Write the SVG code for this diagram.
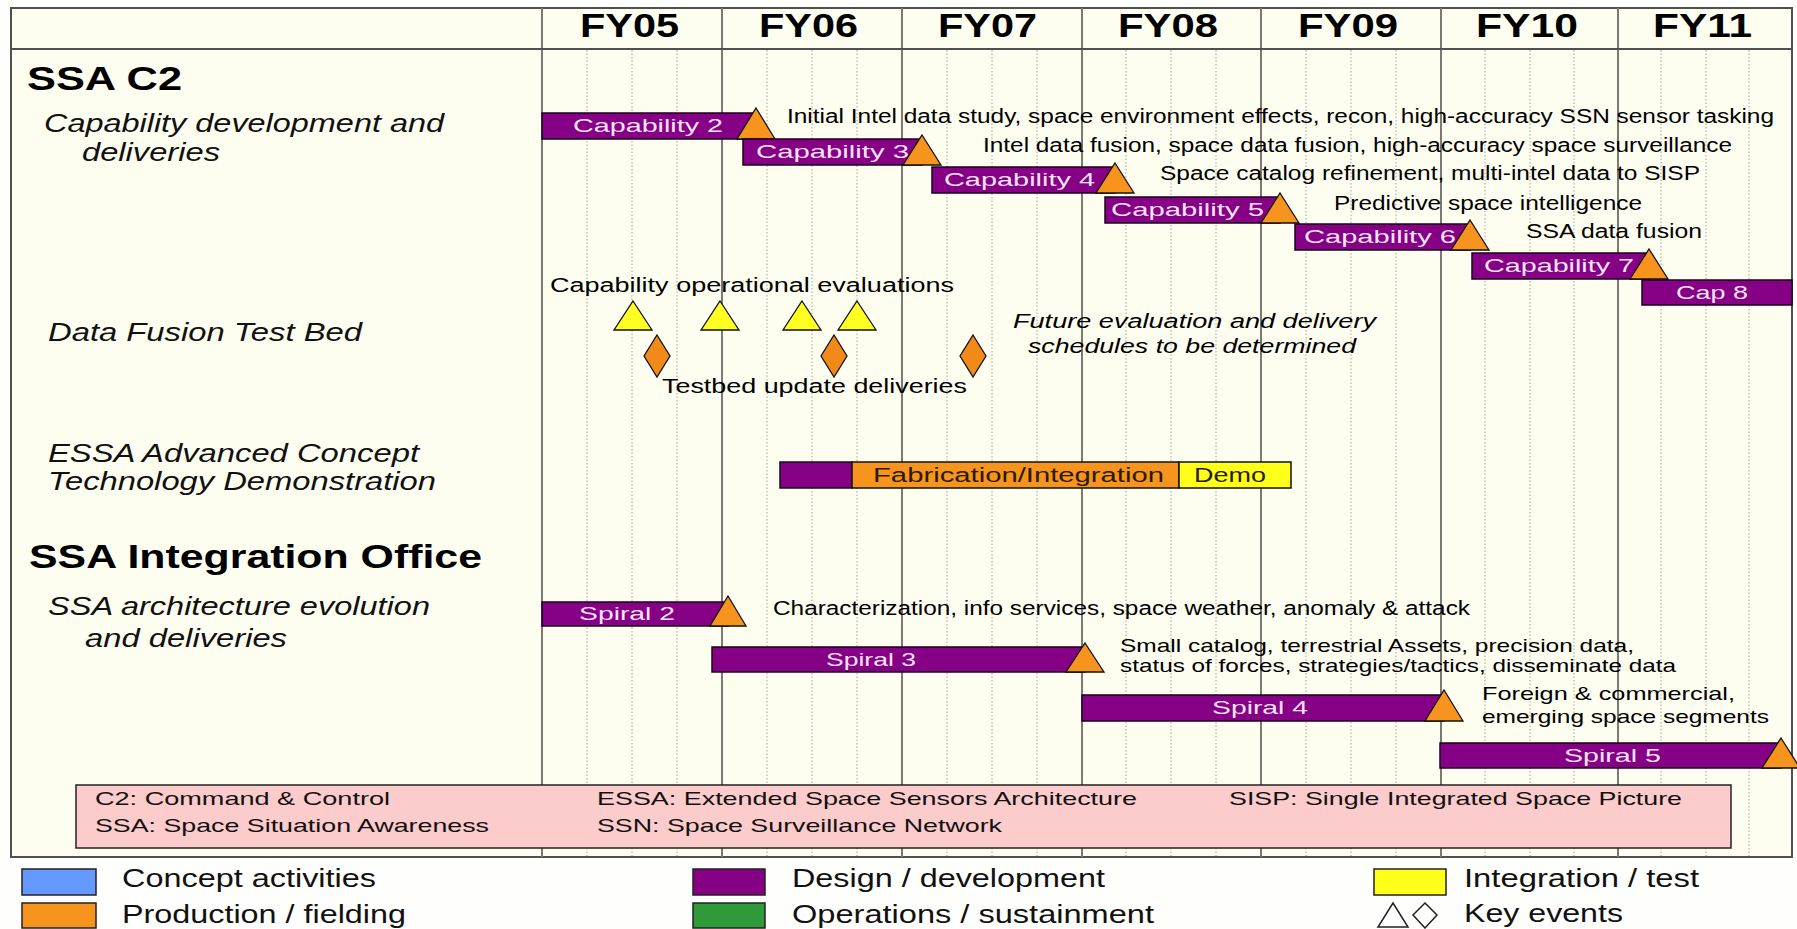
<svg xmlns="http://www.w3.org/2000/svg" width="1797" height="929" viewBox="0 0 1797 929">
<defs>
<style>
text{font-family:"Liberation Sans",Arial,sans-serif;fill:#000}
.fy{font-size:33px;font-weight:bold}
.hd{font-size:34px;font-weight:bold}
.lab{font-size:26px;font-style:italic;fill:#111}
.desc{font-size:20px}
.desc2{font-size:19px}
.it{font-size:20px;font-style:italic}
.bt{font-size:19px;fill:#FBE4FB}
.dt{font-size:20px;fill:#2a1a00}
.ab{font-size:19px;fill:#111}
.lg{font-size:25px;fill:#111}
.bar{fill:#850085;stroke:#1a001a;stroke-width:1.5}
.tri{fill:#F7941D;stroke:#111;stroke-width:1.3}
.ytri{fill:#FFFF22;stroke:#111;stroke-width:1.3}
.dia{fill:#F28A1A;stroke:#111;stroke-width:1.3}
.yl{stroke:#7a7a72;stroke-width:2}
.ql{stroke:#a4a49c;stroke-width:1;stroke-dasharray:1.5 2}
</style>
</defs>
<rect width="1797" height="929" fill="#fefefc"/>
<g id="frame">
<rect x="11" y="8" width="1781" height="849" fill="#fdfdf0" stroke="#505050" stroke-width="2"/>
</g>
<g id="grid">
<g class="ql">
<line x1="587" y1="50" x2="587" y2="856"/><line x1="632" y1="50" x2="632" y2="856"/><line x1="677" y1="50" x2="677" y2="856"/>
<line x1="767" y1="50" x2="767" y2="856"/><line x1="812" y1="50" x2="812" y2="856"/><line x1="857" y1="50" x2="857" y2="856"/>
<line x1="947" y1="50" x2="947" y2="856"/><line x1="992" y1="50" x2="992" y2="856"/><line x1="1037" y1="50" x2="1037" y2="856"/>
<line x1="1126" y1="50" x2="1126" y2="856"/><line x1="1171" y1="50" x2="1171" y2="856"/><line x1="1216" y1="50" x2="1216" y2="856"/>
<line x1="1306" y1="50" x2="1306" y2="856"/><line x1="1351" y1="50" x2="1351" y2="856"/><line x1="1396" y1="50" x2="1396" y2="856"/>
<line x1="1485" y1="50" x2="1485" y2="856"/><line x1="1530" y1="50" x2="1530" y2="856"/><line x1="1574" y1="50" x2="1574" y2="856"/>
<line x1="1661" y1="50" x2="1661" y2="856"/><line x1="1706" y1="50" x2="1706" y2="856"/><line x1="1749" y1="50" x2="1749" y2="856"/>
</g>
<g class="yl">
<line x1="542" y1="8" x2="542" y2="857"/>
<line x1="722" y1="8" x2="722" y2="857"/>
<line x1="902" y1="8" x2="902" y2="857"/>
<line x1="1082" y1="8" x2="1082" y2="857"/>
<line x1="1261" y1="8" x2="1261" y2="857"/>
<line x1="1441" y1="8" x2="1441" y2="857"/>
<line x1="1618" y1="8" x2="1618" y2="857"/>
</g>
<line x1="11" y1="49" x2="1792" y2="49" stroke="#505050" stroke-width="2"/>
</g>
<g id="header">
<text class="fy" x="580" y="37" textLength="99" lengthAdjust="spacingAndGlyphs">FY05</text>
<text class="fy" x="759" y="37" textLength="99" lengthAdjust="spacingAndGlyphs">FY06</text>
<text class="fy" x="938" y="37" textLength="99" lengthAdjust="spacingAndGlyphs">FY07</text>
<text class="fy" x="1118" y="37" textLength="100" lengthAdjust="spacingAndGlyphs">FY08</text>
<text class="fy" x="1298" y="37" textLength="100" lengthAdjust="spacingAndGlyphs">FY09</text>
<text class="fy" x="1476" y="37" textLength="102" lengthAdjust="spacingAndGlyphs">FY10</text>
<text class="fy" x="1653" y="37" textLength="99" lengthAdjust="spacingAndGlyphs">FY11</text>
</g>
<g id="row-labels">
<text class="hd" x="27" y="90" textLength="155" lengthAdjust="spacingAndGlyphs">SSA C2</text>
<text class="lab" x="44" y="132" textLength="400" lengthAdjust="spacingAndGlyphs">Capability development and</text>
<text class="lab" x="82" y="161" textLength="138" lengthAdjust="spacingAndGlyphs">deliveries</text>
<text class="lab" x="48" y="341" textLength="314" lengthAdjust="spacingAndGlyphs">Data Fusion Test Bed</text>
<text class="lab" x="48" y="462" textLength="371" lengthAdjust="spacingAndGlyphs">ESSA Advanced Concept</text>
<text class="lab" x="48" y="490" textLength="388" lengthAdjust="spacingAndGlyphs">Technology Demonstration</text>
<text class="hd" x="29" y="568" textLength="453" lengthAdjust="spacingAndGlyphs">SSA Integration Office</text>
<text class="lab" x="48" y="615" textLength="382" lengthAdjust="spacingAndGlyphs">SSA architecture evolution</text>
<text class="lab" x="85" y="647" textLength="202" lengthAdjust="spacingAndGlyphs">and deliveries</text>
</g>
<g id="cap2">
<rect class="bar" x="542" y="113" width="214" height="26"/>
<text class="bt" x="573" y="132" textLength="150" lengthAdjust="spacingAndGlyphs">Capability 2</text>
<polygon class="tri" points="756,108 775,139 737,139"/>
<text class="desc" x="787" y="123" textLength="987" lengthAdjust="spacingAndGlyphs">Initial Intel data study, space environment effects, recon, high-accuracy SSN sensor tasking</text>
</g>
<g id="cap3">
<rect class="bar" x="743" y="139" width="179" height="26"/>
<text class="bt" x="756" y="158" textLength="153" lengthAdjust="spacingAndGlyphs">Capability 3</text>
<polygon class="tri" points="922,135 941,165 903,165"/>
<text class="desc" x="983" y="152" textLength="749" lengthAdjust="spacingAndGlyphs">Intel data fusion, space data fusion, high-accuracy space surveillance</text>
</g>
<g id="cap4">
<rect class="bar" x="932" y="167" width="183" height="26"/>
<text class="bt" x="944" y="186" textLength="151" lengthAdjust="spacingAndGlyphs">Capability 4</text>
<polygon class="tri" points="1115,163 1134,193 1096,193"/>
<text class="desc" x="1160" y="180" textLength="540" lengthAdjust="spacingAndGlyphs">Space catalog refinement, multi-intel data to SISP</text>
</g>
<g id="cap5">
<rect class="bar" x="1105" y="197" width="175" height="26"/>
<text class="bt" x="1111" y="216" textLength="153" lengthAdjust="spacingAndGlyphs">Capability 5</text>
<polygon class="tri" points="1280,193 1299,223 1261,223"/>
<text class="desc" x="1334" y="210" textLength="308" lengthAdjust="spacingAndGlyphs">Predictive space intelligence</text>
</g>
<g id="cap6">
<rect class="bar" x="1295" y="224" width="175" height="26"/>
<text class="bt" x="1304" y="243" textLength="152" lengthAdjust="spacingAndGlyphs">Capability 6</text>
<polygon class="tri" points="1470,220 1489,250 1451,250"/>
<text class="desc" x="1526" y="238" textLength="176" lengthAdjust="spacingAndGlyphs">SSA data fusion</text>
</g>
<g id="cap7">
<rect class="bar" x="1472" y="253" width="177" height="26"/>
<text class="bt" x="1484" y="272" textLength="150" lengthAdjust="spacingAndGlyphs">Capability 7</text>
<polygon class="tri" points="1649,249 1668,279 1630,279"/>
</g>
<g id="cap8">
<rect class="bar" x="1642" y="280" width="150" height="25"/>
<text class="bt" x="1676" y="299" textLength="72" lengthAdjust="spacingAndGlyphs">Cap 8</text>
</g>
<g id="data-fusion">
<text class="desc" x="550" y="292" textLength="404" lengthAdjust="spacingAndGlyphs">Capability operational evaluations</text>
<polygon class="ytri" points="633,301 652,330 614,330"/>
<polygon class="ytri" points="720,301 739,330 701,330"/>
<polygon class="ytri" points="802,301 821,330 783,330"/>
<polygon class="ytri" points="857,301 876,330 838,330"/>
<polygon class="dia" points="657,335 670,356 657,377 644,356"/>
<polygon class="dia" points="834,335 847,356 834,377 821,356"/>
<polygon class="dia" points="973,335 986,356 973,377 960,356"/>
<text class="desc" x="662" y="393" textLength="305" lengthAdjust="spacingAndGlyphs">Testbed update deliveries</text>
<text class="it" x="1013" y="328" textLength="363" lengthAdjust="spacingAndGlyphs">Future evaluation and delivery</text>
<text class="it" x="1028" y="353" textLength="328" lengthAdjust="spacingAndGlyphs">schedules to be determined</text>
</g>
<g id="essa">
<rect x="780" y="462" width="72" height="26" fill="#850085" stroke="#111" stroke-width="1.5"/>
<rect x="852" y="462" width="327" height="26" fill="#F7941D" stroke="#111" stroke-width="1.5"/>
<rect x="1179" y="462" width="112" height="26" fill="#FFFF1A" stroke="#111" stroke-width="1.5"/>
<text class="dt" x="873" y="482" textLength="291" lengthAdjust="spacingAndGlyphs">Fabrication/Integration</text>
<text class="dt" x="1194" y="482" textLength="72" lengthAdjust="spacingAndGlyphs">Demo</text>
</g>
<g id="spiral2">
<rect class="bar" x="542" y="602" width="186" height="24"/>
<text class="bt" x="579" y="620" textLength="96" lengthAdjust="spacingAndGlyphs">Spiral 2</text>
<polygon class="tri" points="728,596 746,626 710,626"/>
<text class="desc" x="773" y="615" textLength="697" lengthAdjust="spacingAndGlyphs">Characterization, info services, space weather, anomaly &amp; attack</text>
</g>
<g id="spiral3">
<rect class="bar" x="712" y="647" width="373" height="25"/>
<text class="bt" x="826" y="666" textLength="90" lengthAdjust="spacingAndGlyphs">Spiral 3</text>
<polygon class="tri" points="1085,643 1104,672 1066,672"/>
<text class="desc2" x="1120" y="652" textLength="514" lengthAdjust="spacingAndGlyphs">Small catalog, terrestrial Assets, precision data,</text>
<text class="desc2" x="1120" y="672" textLength="556" lengthAdjust="spacingAndGlyphs">status of forces, strategies/tactics, disseminate data</text>
</g>
<g id="spiral4">
<rect class="bar" x="1082" y="695" width="362" height="26"/>
<text class="bt" x="1212" y="714" textLength="96" lengthAdjust="spacingAndGlyphs">Spiral 4</text>
<polygon class="tri" points="1444,690 1463,721 1425,721"/>
<text class="desc2" x="1482" y="700" textLength="253" lengthAdjust="spacingAndGlyphs">Foreign &amp; commercial,</text>
<text class="desc2" x="1482" y="723" textLength="287" lengthAdjust="spacingAndGlyphs">emerging space segments</text>
</g>
<g id="spiral5">
<rect class="bar" x="1440" y="743" width="341" height="25"/>
<text class="bt" x="1564" y="762" textLength="97" lengthAdjust="spacingAndGlyphs">Spiral 5</text>
<polygon class="tri" points="1781,738 1800,768 1762,768"/>
</g>
<g id="abbreviations">
<rect x="76" y="785" width="1655" height="63" fill="#FCCBCB" stroke="#222" stroke-width="1.5"/>
<text class="ab" x="95" y="805" textLength="295" lengthAdjust="spacingAndGlyphs">C2: Command &amp; Control</text>
<text class="ab" x="95" y="832" textLength="394" lengthAdjust="spacingAndGlyphs">SSA: Space Situation Awareness</text>
<text class="ab" x="597" y="805" textLength="540" lengthAdjust="spacingAndGlyphs">ESSA: Extended Space Sensors Architecture</text>
<text class="ab" x="597" y="832" textLength="405" lengthAdjust="spacingAndGlyphs">SSN: Space Surveillance Network</text>
<text class="ab" x="1229" y="805" textLength="453" lengthAdjust="spacingAndGlyphs">SISP: Single Integrated Space Picture</text>
</g>
<g id="legend">
<rect x="22" y="869" width="74" height="26" fill="#6699FF" stroke="#222" stroke-width="1.5"/>
<text class="lg" x="122" y="887" textLength="254" lengthAdjust="spacingAndGlyphs">Concept activities</text>
<rect x="22" y="903" width="74" height="25" fill="#F7941D" stroke="#222" stroke-width="1.5"/>
<text class="lg" x="122" y="923" textLength="284" lengthAdjust="spacingAndGlyphs">Production / fielding</text>
<rect x="693" y="869" width="72" height="26" fill="#850085" stroke="#222" stroke-width="1.5"/>
<text class="lg" x="792" y="887" textLength="313" lengthAdjust="spacingAndGlyphs">Design / development</text>
<rect x="693" y="903" width="72" height="25" fill="#2E9A3A" stroke="#222" stroke-width="1.5"/>
<text class="lg" x="792" y="923" textLength="362" lengthAdjust="spacingAndGlyphs">Operations / sustainment</text>
<rect x="1374" y="869" width="72" height="26" fill="#FFFF1A" stroke="#222" stroke-width="1.5"/>
<text class="lg" x="1464" y="887" textLength="235" lengthAdjust="spacingAndGlyphs">Integration / test</text>
<polygon points="1393,903 1408,927 1378,927" fill="#fff" stroke="#222" stroke-width="1.5"/>
<polygon points="1425,903 1437,915 1425,928 1413,915" fill="#fff" stroke="#222" stroke-width="1.5"/>
<text class="lg" x="1464" y="922" textLength="159" lengthAdjust="spacingAndGlyphs">Key events</text>
</g>
</svg>
